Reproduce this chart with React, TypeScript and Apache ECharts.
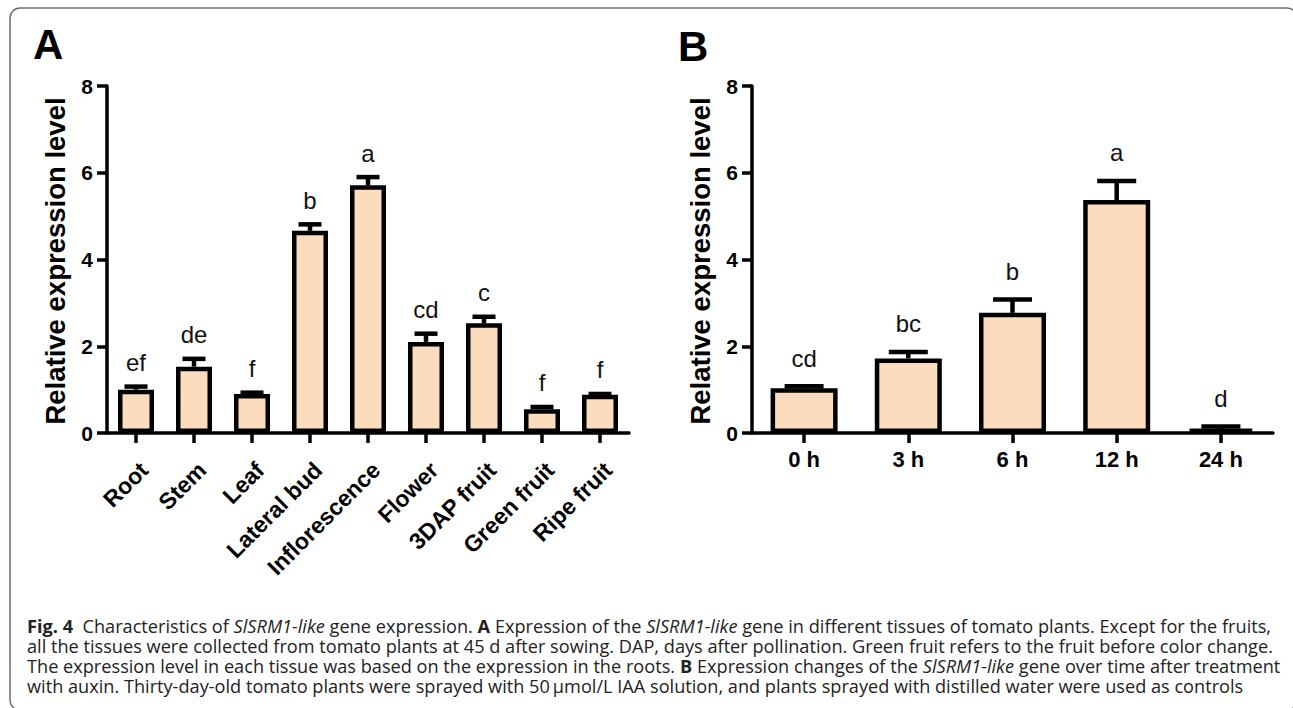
import React, { useEffect, useRef } from "react";
import * as echarts from "echarts";

// ---- Data (panel A: tissues) ----
const tissueCategories = ["Root", "Stem", "Leaf", "Lateral bud", "Inflorescence", "Flower", "3DAP fruit", "Green fruit", "Ripe fruit"];
const tissueValues = [1.0, 1.53, 0.9, 4.66, 5.71, 2.1, 2.53, 0.55, 0.88];
const tissueErrors = [0.07, 0.18, 0.03, 0.15, 0.19, 0.19, 0.15, 0.05, 0.02];
const tissueLetters = ["ef", "de", "f", "b", "a", "cd", "c", "f", "f"];

// ---- Data (panel B: time after auxin) ----
const timeCategories = ["0 h", "3 h", "6 h", "12 h", "24 h"];
const timeValues = [1.03, 1.72, 2.77, 5.37, 0.1];
const timeErrors = [0.05, 0.15, 0.31, 0.44, 0.05];
const timeLetters = ["cd", "bc", "b", "a", "d"];

const yTicks = [0, 2, 4, 6, 8];
const yTitle = "Relative expression level";

const captionLines: { t: string; s: "n" | "b" | "i" }[][] = [
  [
    { t: "Fig. 4", s: "b" },
    { t: "  Characteristics of ", s: "n" },
    { t: "SlSRM1-like", s: "i" },
    { t: " gene expression. ", s: "n" },
    { t: "A", s: "b" },
    { t: " Expression of the ", s: "n" },
    { t: "SlSRM1-like", s: "i" },
    { t: " gene in different tissues of tomato plants. Except for the fruits,", s: "n" },
  ],
  [{ t: "all the tissues were collected from tomato plants at 45 d after sowing. DAP, days after pollination. Green fruit refers to the fruit before color change.", s: "n" }],
  [
    { t: "The expression level in each tissue was based on the expression in the roots. ", s: "n" },
    { t: "B", s: "b" },
    { t: " Expression changes of the ", s: "n" },
    { t: "SlSRM1-like", s: "i" },
    { t: " gene over time after treatment", s: "n" },
  ],
  [{ t: "with auxin. Thirty-day-old tomato plants were sprayed with 50\u2009\u00b5mol/L IAA solution, and plants sprayed with distilled water were used as controls", s: "n" }],
];

const FONT = "'Liberation Sans', Arial, Helvetica, sans-serif";
const CAP_FONT = "'Open Sans', 'Noto Sans', sans-serif";
const CAP_SIZE = 17.5;
const BAR_FILL = "#FBDCBC";

function errRender(letters: string[], capW: number, gap: number) {
  return (params: any, api: any) => {
    const i = api.value(0);
    const v = api.value(1);
    const e = api.value(2);
    const base = api.coord([i, v]);
    const top = api.coord([i, v + e]);
    return {
      type: "group",
      children: [
        { type: "line", shape: { x1: base[0], y1: base[1], x2: top[0], y2: top[1] }, style: { stroke: "#000", lineWidth: 4.5 } },
        { type: "line", shape: { x1: top[0] - capW / 2, y1: top[1], x2: top[0] + capW / 2, y2: top[1] }, style: { stroke: "#000", lineWidth: 4.5 } },
        {
          type: "text",
          x: top[0],
          y: top[1] - gap,
          style: { text: letters[params.dataIndex], fill: "#111", fontSize: 24, fontFamily: FONT, align: "center", verticalAlign: "middle" },
        },
      ],
    };
  };
}

function yAxisCfg(gridIndex: number) {
  return {
    gridIndex,
    type: "value",
    min: yTicks[0],
    max: yTicks[yTicks.length - 1],
    interval: yTicks[1] - yTicks[0],
    axisLine: { show: true, lineStyle: { color: "#000", width: 3.5 } },
    axisTick: { show: true, length: 10, lineStyle: { color: "#000", width: 3.5 } },
    splitLine: { show: false },
    axisLabel: { color: "#000", fontSize: 21, fontWeight: "bold", fontFamily: FONT, margin: 14 },
  };
}

function measureSeg(ctx: CanvasRenderingContext2D, seg: { t: string; s: string }) {
  const style = seg.s === "i" ? "italic" : "normal";
  const weight = seg.s === "b" ? "bold" : "normal";
  ctx.font = `${style} ${weight} ${CAP_SIZE}px ${CAP_FONT}`;
  return ctx.measureText(seg.t).width;
}

export default function App() {
  const ref = useRef<HTMLDivElement>(null);

  useEffect(() => {
    if (!ref.current) return;
    const chart = echarts.init(ref.current, undefined, { renderer: "svg" });

    const canvas = document.createElement("canvas");
    const ctx = canvas.getContext("2d") as CanvasRenderingContext2D;
    const line1W = captionLines[0].reduce((a, s) => a + measureSeg(ctx, s), 0);
    const capScale = 1244 / line1W;
    const capYs = [626, 646, 666, 686];

    const richStyles = {
      n: { fontSize: CAP_SIZE, fontFamily: CAP_FONT, fill: "#222", color: "#222" },
      b: { fontSize: CAP_SIZE, fontFamily: CAP_FONT, fontWeight: "bold", fill: "#222", color: "#222" },
      i: { fontSize: CAP_SIZE, fontFamily: CAP_FONT, fontStyle: "italic", fill: "#222", color: "#222" },
    };

    const captionGraphics = captionLines.map((segs, li) => ({
      type: "text",
      x: 27,
      y: capYs[li],
      scaleX: capScale,
      style: {
        text: segs.map((s) => `{${s.s}|${s.t}}`).join(""),
        rich: richStyles,
        fontSize: CAP_SIZE,
        fontFamily: CAP_FONT,
        fill: "#222",
        align: "left",
        verticalAlign: "middle",
      },
    }));

    const option: any = {
      animation: false,
      backgroundColor: "#fff",
      grid: [
        { left: 107, top: 86, width: 522, height: 347 },
        { left: 752, top: 86, width: 521, height: 347 },
      ],
      xAxis: [
        {
          gridIndex: 0,
          type: "category",
          data: tissueCategories,
          boundaryGap: true,
          axisLine: { show: true, lineStyle: { color: "#000", width: 3.5 } },
          axisTick: { show: true, alignWithLabel: true, length: 10, lineStyle: { color: "#000", width: 3.5 } },
          axisLabel: {
            interval: 0,
            rotate: 45,
            align: "right",
            verticalAlign: "top",
            margin: 25,
            color: "#000",
            fontSize: 23,
            fontWeight: "bold",
            fontFamily: FONT,
          },
        },
        {
          gridIndex: 1,
          type: "category",
          data: timeCategories,
          boundaryGap: true,
          axisLine: { show: true, lineStyle: { color: "#000", width: 3.5 } },
          axisTick: { show: true, alignWithLabel: true, length: 10, lineStyle: { color: "#000", width: 3.5 } },
          axisLabel: { interval: 0, margin: 15, color: "#000", fontSize: 22, fontWeight: "bold", fontFamily: FONT },
        },
      ],
      yAxis: [yAxisCfg(0), yAxisCfg(1)],
      series: [
        {
          type: "bar",
          xAxisIndex: 0,
          yAxisIndex: 0,
          data: tissueValues,
          barWidth: 36,
          itemStyle: { color: BAR_FILL, borderColor: "#000", borderWidth: 4.5 },
          z: 2,
        },
        {
          type: "custom",
          xAxisIndex: 0,
          yAxisIndex: 0,
          data: tissueValues.map((v, i) => [i, v, tissueErrors[i]]),
          encode: { x: 0, y: 1 },
          renderItem: errRender(tissueLetters, 23, 24),
          z: 3,
        },
        {
          type: "bar",
          xAxisIndex: 1,
          yAxisIndex: 1,
          data: timeValues,
          barWidth: 67,
          itemStyle: { color: BAR_FILL, borderColor: "#000", borderWidth: 4.5 },
          z: 2,
        },
        {
          type: "custom",
          xAxisIndex: 1,
          yAxisIndex: 1,
          data: timeValues.map((v, i) => [i, v, timeErrors[i]]),
          encode: { x: 0, y: 1 },
          renderItem: errRender(timeLetters, 39, 28),
          z: 3,
        },
      ],
      graphic: [
        {
          type: "rect",
          shape: { x: 10, y: 8, width: 1287, height: 702, r: 10 },
          style: { fill: "none", stroke: "#6f6f6f", lineWidth: 1.5 },
          z: -1,
        },
        { type: "text", x: 33, y: 44, style: { text: "A", fontSize: 42, fontWeight: "bold", fontFamily: FONT, fill: "#000", align: "left", verticalAlign: "middle" } },
        { type: "text", x: 678, y: 46, style: { text: "B", fontSize: 42, fontWeight: "bold", fontFamily: FONT, fill: "#000", align: "left", verticalAlign: "middle" } },
        { type: "text", x: 55, y: 261, rotation: Math.PI / 2, style: { text: yTitle, fontSize: 27.5, fontWeight: "bold", fontFamily: FONT, fill: "#000", align: "center", verticalAlign: "middle" } },
        { type: "text", x: 700, y: 261, rotation: Math.PI / 2, style: { text: yTitle, fontSize: 27.5, fontWeight: "bold", fontFamily: FONT, fill: "#000", align: "center", verticalAlign: "middle" } },
        ...captionGraphics,
      ],
    };

    chart.setOption(option);
    return () => chart.dispose();
  }, []);

  return <div ref={ref} style={{ position: "fixed", left: 0, top: 0, width: 1293, height: 708, background: "#fff" }} />;
}
